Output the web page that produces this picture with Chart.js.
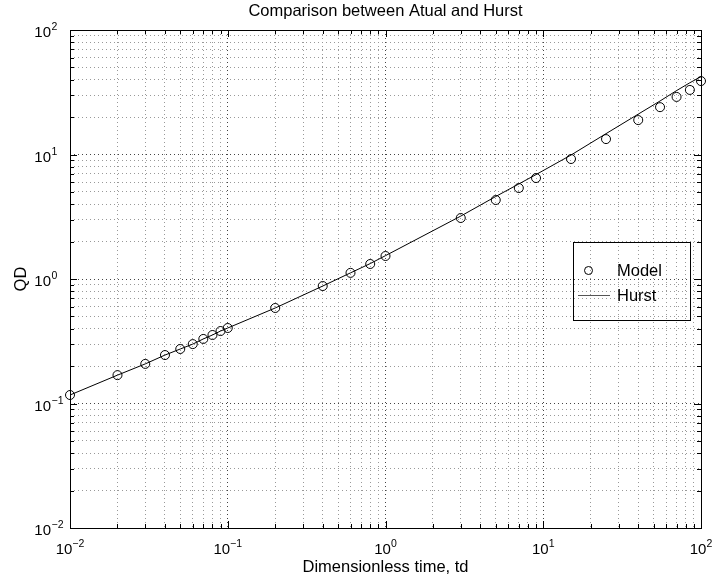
<!DOCTYPE html>
<html>
<head>
<meta charset="utf-8">
<script src="https://cdn.jsdelivr.net/npm/chart.js@4.4.0/dist/chart.umd.min.js"></script>
<style>
  html, body { margin: 0; padding: 0; background: #fff; }
</style>
</head>
<body>
<canvas id="myChart" width="717" height="583"></canvas>
<script>
'use strict';

// values
const tdValues = [0.01, 0.02, 0.03, 0.04, 0.05, 0.06, 0.07, 0.08, 0.09, 0.1,
  0.2, 0.4, 0.6, 0.8, 1, 3, 5, 7, 9, 15, 25, 40, 55, 70, 85, 100];
const modelQD = [0.117, 0.169, 0.208, 0.245, 0.274, 0.30, 0.33, 0.355, 0.382, 0.404,
  0.585, 0.878, 1.12, 1.32, 1.53, 3.09, 4.31, 5.38, 6.47, 9.2, 13.3, 18.9, 24, 29, 33, 38.9];
const hurstQD = [0.117, 0.169, 0.208, 0.245, 0.274, 0.30, 0.33, 0.355, 0.382, 0.404,
  0.585, 0.878, 1.12, 1.33, 1.54, 3.2, 4.6, 5.8, 6.9, 9.9, 14.7, 21.1, 26.9, 32.6, 37.7, 42.2];
const seriesNames = ['Model', 'Hurst'];
const decadePowers = [-2, -1, 0, 1, 2];

const FONT = '"Liberation Sans", Arial, Helvetica, sans-serif';
Chart.defaults.font.family = FONT;
Chart.defaults.color = '#000';

function toPoints(ys) {
  return tdValues.map((t, i) => ({ x: t, y: ys[i] }));
}

// 1..9 x 10^p for every decade, as MATLAB does
function decadeTicks(scale) {
  const ticks = [];
  for (let p = decadePowers[0]; p < decadePowers[decadePowers.length - 1]; p++) {
    for (let m = 1; m < 10; m++) {
      ticks.push({ value: m * Math.pow(10, p), major: m === 1 });
    }
  }
  ticks.push({ value: Math.pow(10, decadePowers[decadePowers.length - 1]), major: true });
  scale.ticks = ticks;
}

function isMajor(v) {
  const l = Math.log10(v);
  return Math.abs(l - Math.round(l)) < 1e-9;
}

function gridColor(c) {
  if (!c.tick) return '#000';
  return isMajor(c.tick.value) ? '#444' : '#999';
}

// box, inward ticks and 10^n labels
const axesDecor = {
  id: 'axesDecor',
  afterDraw(chart) {
    const ctx = chart.ctx;
    const a = chart.chartArea;
    const xs = chart.scales.x, ys = chart.scales.y;
    ctx.save();
    ctx.strokeStyle = '#000';
    ctx.lineWidth = 1;
    ctx.setLineDash([]);
    ctx.beginPath();
    xs.ticks.forEach(t => {
      const px = Math.round(xs.getPixelForValue(t.value)) + 0.5;
      const len = isMajor(t.value) ? 7 : 4;
      ctx.moveTo(px, a.bottom); ctx.lineTo(px, a.bottom - len);
      ctx.moveTo(px, a.top); ctx.lineTo(px, a.top + len);
    });
    ys.ticks.forEach(t => {
      const py = Math.round(ys.getPixelForValue(t.value)) + 0.5;
      const len = isMajor(t.value) ? 7 : 4;
      ctx.moveTo(a.left, py); ctx.lineTo(a.left + len, py);
      ctx.moveTo(a.right, py); ctx.lineTo(a.right - len, py);
    });
    ctx.stroke();
    ctx.strokeRect(Math.round(a.left) + 0.5, Math.round(a.top) + 0.5,
      Math.round(a.right - a.left), Math.round(a.bottom - a.top));

    const baseFont = '15px ' + FONT;
    const expFont = '10.5px ' + FONT;
    ctx.fillStyle = '#000';
    ctx.textBaseline = 'alphabetic';
    decadePowers.forEach(p => {
      const v = Math.pow(10, p);
      const exp = p < 0 ? '\u2212' + (-p) : String(p);
      ctx.font = baseFont;
      const w1 = ctx.measureText('10').width;
      ctx.font = expFont;
      const w2 = ctx.measureText(exp).width;

      // x axis
      const px = xs.getPixelForValue(v);
      const left = px - (w1 + w2) / 2;
      ctx.textAlign = 'left';
      ctx.font = baseFont;
      ctx.fillText('10', left, a.bottom + 26);
      ctx.font = expFont;
      ctx.fillText(exp, left + w1, a.bottom + 18.5);

      // y axis
      const py = ys.getPixelForValue(v);
      const right = a.left - 19;
      ctx.textAlign = 'right';
      ctx.font = baseFont;
      ctx.fillText('10', right, py + 7);
      ctx.textAlign = 'left';
      ctx.font = expFont;
      ctx.fillText(exp, right + 0.5, py);
    });
    ctx.restore();
  }
};

// legend box inside the axes
const boxLegend = {
  id: 'boxLegend',
  afterDraw(chart) {
    const ctx = chart.ctx;
    const ds = chart.data.datasets;
    ctx.save();
    ctx.strokeStyle = '#000';
    ctx.lineWidth = 1;
    ctx.strokeRect(573.5, 242.5, 117, 78);
    ctx.font = '16.5px ' + FONT;
    ctx.fillStyle = '#000';
    ctx.textAlign = 'left';
    ctx.textBaseline = 'middle';
    // Model
    ctx.beginPath();
    ctx.arc(588.5, 270.5, 4, 0, Math.PI * 2);
    ctx.stroke();
    ctx.fillText(ds[0].label, 617, 271);
    // Hurst
    ctx.strokeStyle = '#555';
    ctx.beginPath();
    ctx.moveTo(578, 295.5);
    ctx.lineTo(610, 295.5);
    ctx.stroke();
    ctx.fillText(ds[1].label, 617, 296);
    ctx.restore();
  }
};

const ctx = document.getElementById('myChart').getContext('2d');

const myChart = new Chart(ctx, {
  type: 'scatter',
  data: {
    datasets: [
      {
        label: seriesNames[0],
        data: toPoints(modelQD),
        showLine: false,
        pointStyle: 'circle',
        pointRadius: 4.5,
        pointBorderWidth: 1,
        borderColor: '#000',
        backgroundColor: 'rgba(0,0,0,0)',
        clip: false,
        order: 1
      },
      {
        label: seriesNames[1],
        data: toPoints(hurstQD),
        showLine: true,
        pointRadius: 0,
        borderColor: '#000',
        borderWidth: 1,
        clip: false,
        order: 2
      }
    ]
  },
  options: {
    responsive: false,
    animation: false,
    layout: { padding: { left: 0, right: 16, top: 0, bottom: 0 } },
    plugins: {
      legend: { display: false },
      tooltip: { enabled: false },
      title: {
        display: true,
        fullSize: false,
        text: 'Comparison between Atual and Hurst',
        font: { size: 16.5, weight: 'normal' },
        padding: { top: 2, bottom: 8.2 }
      }
    },
    scales: {
      x: {
        type: 'logarithmic',
        min: 0.01,
        max: 100,
        afterBuildTicks: decadeTicks,
        afterFit(scale) { scale.height = 55; },
        ticks: { display: false },
        grid: { color: gridColor, lineWidth: 1, drawTicks: false },
        border: { display: false, dash: [1, 3] },
        title: {
          display: true,
          text: 'Dimensionless time, td',
          font: { size: 16.5 },
          padding: { top: 0, bottom: 6 }
        }
      },
      y: {
        type: 'logarithmic',
        min: 0.01,
        max: 100,
        afterBuildTicks: decadeTicks,
        afterFit(scale) { scale.width = 70; },
        ticks: { display: false },
        grid: { color: gridColor, lineWidth: 1, drawTicks: false },
        border: { display: false, dash: [1, 3] },
        title: {
          display: true,
          text: 'QD',
          font: { size: 16.5 },
          padding: { top: 12, bottom: 0 }
        }
      }
    }
  },
  plugins: [axesDecor, boxLegend]
});
</script>
</body>
</html>
